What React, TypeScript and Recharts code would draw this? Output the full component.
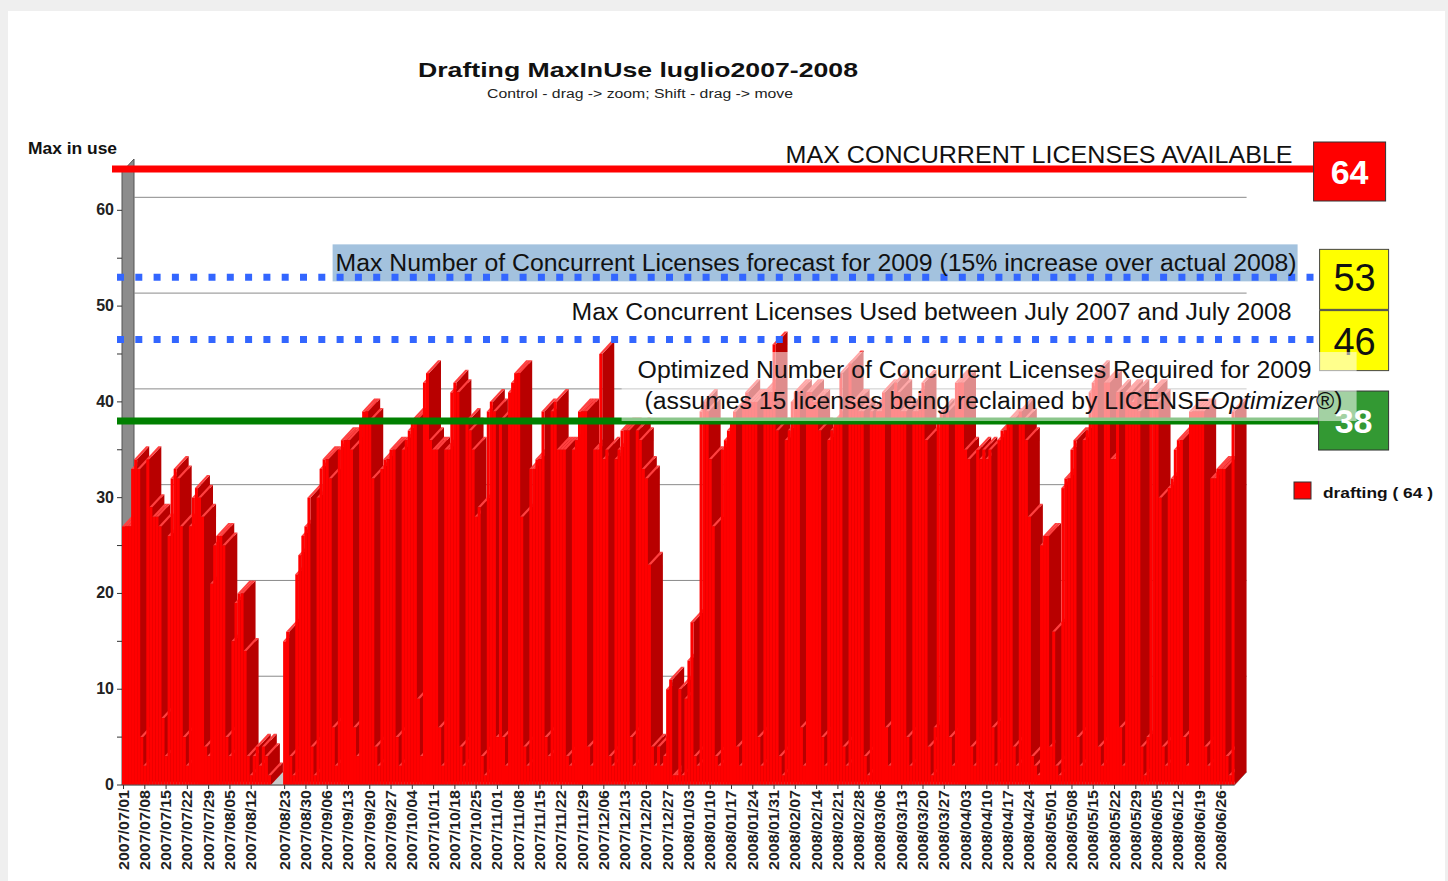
import React from 'react'
import { BarChart, Bar, XAxis, YAxis, ReferenceLine, ReferenceArea, Legend } from 'recharts'

// daily "max in use" for the drafting licences, one array per month (null = no data)
const jul2007 = [27, 27, 27, 33, 34, 33, 5, 2, 34, 29, 28, 28, 27, 7, 3, 26, 32, 33, 32, 27, 5, 2, 27, 30, 31, 30, 28, 4, 3, 21, 25]
const aug2007 = [26, 26, 25, 5, 3, 15, 19, 20, 20, 14, 3, 1, 3, 4, 2, 4, 3, 1, null, null, null, null, 15, 16, 3, 1, 22, 24, 26, 27, 30]
const sep2007 = [4, 1, 30, 33, 34, 34, 32, 6, 2, 35, 36, 36, 36, 35, 6, 3, 38, 39, 39, 38, 32, 4, 2, 33, 34, 34, 35, 35, 5, 2]
const oct2007 = [35, 36, 37, 38, 38, 9, 3, 42, 43, 36, 35, 35, 6, 2, 35, 35, 41, 42, 41, 4, 2, 38, 37, 35, 28, 29, 3, 1, 39, 40, 39]
const nov2007 = [5, 38, 5, 2, 41, 42, 43, 43, 28, 4, 2, 33, 33, 34, 34, 39, 5, 3, 39, 40, 35, 35, 35, 3, 2, 35, 36, 39, 39, 39]
const dec2007 = [4, 2, 35, 35, 45, 34, 35, 3, 2, 34, 35, 37, 37, 37, 5, 2, 37, 36, 33, 32, 23, 4, 2, 4, 2, 3, 10, 11, 1, 1, 10]
const jan2008 = [1, 9, 13, 17, 3, 2, 39, 40, 39, 34, 27, 3, 2, 35, 36, 37, 38, 39, 4, 2, 40, 41, 40, 40, 40, 5, 2, 41, 41, 41, 46]
const feb2008 = [37, 3, 1, 36, 37, 40, 41, 41, 6, 2, 41, 41, 40, 40, 37, 5, 2, 36, 37, 38, 38, 43, 4, 2, 44, 40, 40, 39, 39]
const mar2008 = [3, 1, 39, 38, 39, 39, 41, 6, 2, 41, 42, 41, 39, 39, 5, 2, 39, 39, 41, 42, 36, 4, 1, 6, 38, 39, 38, 39, 5, 2, 42]
const apr2008 = [42, 42, 35, 34, 4, 2, 35, 34, 35, 34, 35, 6, 2, 36, 37, 37, 38, 38, 4, 2, 39, 38, 36, 28, 3, 2, 1, 25, 26, 26]
const may2008 = [4, 16, 2, 1, 31, 32, 32, 35, 36, 5, 2, 36, 37, 41, 42, 43, 4, 2, 42, 42, 34, 34, 41, 6, 2, 41, 41, 40, 41, 39, 4]
const jun2008 = [1, 5, 41, 41, 40, 30, 4, 2, 31, 32, 35, 36, 36, 5, 2, 39, 39, 39, 39, 39, 4, 2, 32, 32, 33, 33, 33, 3, 1, 39]

const monthKeys = ['2007/07', '2007/08', '2007/09', '2007/10', '2007/11', '2007/12', '2008/01', '2008/02', '2008/03', '2008/04', '2008/05', '2008/06']
const monthValues = [jul2007, aug2007, sep2007, oct2007, nov2007, dec2007, jan2008, feb2008, mar2008, apr2008, may2008, jun2008]

const tickLabels = [
  '2007/07/01', '2007/07/08', '2007/07/15', '2007/07/22', '2007/07/29', '2007/08/05', '2007/08/12', '2007/08/23',
  '2007/08/30', '2007/09/06', '2007/09/13', '2007/09/20', '2007/09/27', '2007/10/04', '2007/10/11', '2007/10/18',
  '2007/10/25', '2007/11/01', '2007/11/08', '2007/11/15', '2007/11/22', '2007/11/29', '2007/12/06', '2007/12/13',
  '2007/12/20', '2007/12/27', '2008/01/03', '2008/01/10', '2008/01/17', '2008/01/24', '2008/01/31', '2008/02/07',
  '2008/02/14', '2008/02/21', '2008/02/28', '2008/03/06', '2008/03/13', '2008/03/20', '2008/03/27', '2008/04/03',
  '2008/04/10', '2008/04/17', '2008/04/24', '2008/05/01', '2008/05/08', '2008/05/15', '2008/05/22', '2008/05/29',
  '2008/06/05', '2008/06/12', '2008/06/19', '2008/06/26',
]
const yTicks = [0, 5, 10, 15, 20, 25, 30, 35, 40, 45, 50, 55, 60]
const gridValues = [10, 20, 30, 40, 50, 60]

// licence levels written in the coloured boxes
const maxAvailable = 64
const forecast2009 = 53
const maxUsed = 46
const maxUsedLevel = 46.5 // the dotted line sits a bit above 46 in the original
const optimized2009 = 38

const data = monthKeys.flatMap((m, i) =>
  monthValues[i].map((v, d) => ({ date: `${m}/${String(d + 1).padStart(2, '0')}`, drafting: v })),
)
const labelSet = new Set(tickLabels)

// 3d depth of bars and walls
const DX = 12
const DY = 13

function Bar3D(props: any) {
  const { x, y, width, height, payload } = props
  if (payload == null || payload.drafting == null || !(height > 0)) return <g />
  const w = width
  const b = y + height
  return (
    <g>
      <polygon points={`${x + w},${y} ${x + w + DX},${y - DY} ${x + w + DX},${b - DY} ${x + w},${b}`} fill="#b80000" />
      <polygon points={`${x},${y} ${x + DX},${y - DY} ${x + w + DX},${y - DY} ${x + w},${y}`} fill="#ff4040" />
      <rect x={x} y={y} width={w} height={height} fill="#ff0000" />
    </g>
  )
}

function WallAndFloor(props: any) {
  const { x, y, width, height } = props
  const b = y + height
  const r = x + width
  return (
    <g>
      <polygon points={`${x},${b} ${r},${b} ${r + DX},${b - DY} ${x + DX},${b - DY}`} fill="#c8c8c8" stroke="#9a9a9a" />
      <polygon points={`${x},${b} ${x},${y} ${x + DX},${y - DY} ${x + DX},${b - DY}`} fill="#8c8c8c" stroke="#555" />
    </g>
  )
}

const gridShape = (p: any) => (
  <line x1={p.x1 + DX} y1={p.y1 - DY} x2={p.x2 + DX} y2={p.y2 - DY} stroke="#8a8a8a" strokeWidth={1} />
)

const dotted = { stroke: '#3366ff', strokeWidth: 7, strokeDasharray: '7 11.3' }

const maxAvailableShape = (p: any) => {
  const y = p.y1
  const r = p.x2
  return (
    <g>
      <line x1={p.x1 - 10} x2={r + 79} y1={y - 3} y2={y - 3} stroke="#ff0000" strokeWidth={7} />
      <text x={r + 58} y={y - 9} textAnchor="end" fontSize={23} fill="#111" textLength={507} lengthAdjust="spacingAndGlyphs">
        MAX CONCURRENT LICENSES AVAILABLE
      </text>
      <rect x={r + 79} y={y - 30} width={72} height={59} fill="#ff0000" stroke="#333" />
      <text x={r + 115} y={y + 12} textAnchor="middle" fontSize={34} fontWeight="bold" fill="#fff">
        {maxAvailable}
      </text>
    </g>
  )
}

const forecastShape = (p: any) => {
  const y = p.y1
  const r = p.x2
  return (
    <g>
      <rect x={r - 902} y={y - 33} width={965} height={37} fill="#a3c2de" />
      <line x1={p.x1 - 5} x2={r + 84} y1={y} y2={y} {...dotted} />
      <text x={r + 62} y={y - 6} textAnchor="end" fontSize={23} fill="#111" textLength={961} lengthAdjust="spacingAndGlyphs">
        Max Number of Concurrent Licenses forecast for 2009 (15% increase over actual 2008)
      </text>
      <rect x={r + 85} y={y - 28} width={69} height={60} fill="#ffff00" stroke="#444" />
      <text x={r + 120} y={y + 14} textAnchor="middle" fontSize={38} fill="#111">
        {forecast2009}
      </text>
    </g>
  )
}

const maxUsedShape = (p: any) => {
  const y = p.y1
  const r = p.x2
  return (
    <g>
      <line x1={p.x1 - 5} x2={r + 84} y1={y} y2={y} {...dotted} />
      <text x={r + 57} y={y - 20} textAnchor="end" fontSize={23} fill="#111" textLength={720} lengthAdjust="spacingAndGlyphs">
        Max Concurrent Licenses Used between July 2007 and July 2008
      </text>
      <rect x={r + 85} y={y - 29} width={69} height={60} fill="#ffff00" stroke="#444" />
      <text x={r + 120} y={y + 15} textAnchor="middle" fontSize={38} fill="#111">
        {maxUsed}
      </text>
    </g>
  )
}

const optimizedShape = (p: any) => {
  const y = p.y1
  const r = p.x2
  return (
    <g>
      <line x1={p.x1 - 5} x2={r + 84} y1={y} y2={y} stroke="#008000" strokeWidth={7} />
      <rect x={r + 84} y={y - 30} width={70} height={59} fill="#339933" stroke="#333" />
      <text x={r + 119} y={y + 12} textAnchor="middle" fontSize={34} fontWeight="bold" fill="#fff">
        {optimized2009}
      </text>
      <rect x={r - 613} y={y - 69} width={735} height={69} fill="#ffffff" fillOpacity={0.55} />
      <text x={r - 597} y={y - 43} fontSize={23} fill="#111" textLength={674} lengthAdjust="spacingAndGlyphs">
        Optimized Number of Concurrent Licenses Required for 2009
      </text>
      <text x={r - 590} y={y - 12} fontSize={23} fill="#111" textLength={698} lengthAdjust="spacingAndGlyphs">
        (assumes 15 licenses being reclaimed by LICENSE<tspan fontStyle="italic">Optimizer</tspan>®)
      </text>
    </g>
  )
}

function XTick(props: any) {
  const { x, y, payload } = props
  if (!labelSet.has(payload.value)) return <g />
  return (
    <g>
      <line x1={x} x2={x} y1={y - 5} y2={y - 1} stroke="#333" />
      <text
        x={x}
        y={y}
        dy={5}
        transform={`rotate(-90 ${x} ${y})`}
        textAnchor="end"
        fontSize={14.5}
        fontWeight="bold"
        fill="#222"
        textLength={80}
        lengthAdjust="spacingAndGlyphs"
      >
        {payload.value}
      </text>
    </g>
  )
}

function YTick(props: any) {
  const { x, y, payload } = props
  const v = payload.value
  return (
    <g>
      <line x1={x + 3} x2={x + 8} y1={y} y2={y} stroke="#333" />
      {v % 10 === 0 && (
        <text x={x} y={y} dy={5} textAnchor="end" fontSize={16} fontWeight="bold" fill="#222">
          {v}
        </text>
      )}
    </g>
  )
}

const renderYTitle = (props: any) => {
  const vb = props.viewBox
  return (
    <text x={vb.x + vb.width - 5} y={vb.y - 18} textAnchor="end" fontSize={16} fontWeight="bold" fill="#111" textLength={89} lengthAdjust="spacingAndGlyphs">
      Max in use
    </text>
  )
}

const renderLegend = (props: any) => {
  const items = props.payload || []
  return (
    <svg width={150} height={26}>
      {items.map((e: any) => (
        <g key={e.value}>
          <rect x={2} y={3} width={17} height={17} fill={e.color} stroke="#333" />
          <text x={31} y={19} fontSize={15} fontWeight="bold" fill="#111" textLength={110} lengthAdjust="spacingAndGlyphs">
            {e.value}
          </text>
        </g>
      ))}
    </svg>
  )
}

export default function App() {
  return (
    <div
      style={{
        position: 'fixed',
        left: 0,
        top: 0,
        width: 1448,
        height: 881,
        background: '#efefef',
        overflow: 'hidden',
        fontFamily: "'Liberation Sans', Arial, sans-serif",
      }}
    >
      <div style={{ position: 'absolute', left: 8, top: 11, width: 1437, height: 870, background: '#fff' }} />
      <svg width={1448} height={110} style={{ position: 'absolute', left: 0, top: 0 }}>
        <text x={638} y={77} textAnchor="middle" fontSize={21} fontWeight="bold" fill="#111" textLength={440} lengthAdjust="spacingAndGlyphs">
          Drafting MaxInUse luglio2007-2008
        </text>
        <text x={640} y={98} textAnchor="middle" fontSize={12.5} fill="#222" textLength={306} lengthAdjust="spacingAndGlyphs">
          Control - drag -&gt; zoom; Shift - drag -&gt; move
        </text>
      </svg>
      <div style={{ position: 'absolute', left: 0, top: 0 }}>
        <BarChart
          width={1448}
          height={881}
          data={data}
          margin={{ top: 172, right: 213.4, bottom: 6, left: 62 }}
          barCategoryGap={0}
          barGap={0}
        >
          <ReferenceArea y1={0} y2={maxAvailable} ifOverflow="visible" shape={WallAndFloor} zIndex={-200} />
          {gridValues.map((v) => (
            <ReferenceLine key={v} y={v} ifOverflow="visible" shape={gridShape} zIndex={-150} />
          ))}
          <XAxis
            dataKey="date"
            interval={0}
            height={90}
            tickSize={4}
            tickMargin={1}
            tickLine={false}
            axisLine={{ stroke: '#555' }}
            tick={XTick}
          />
          <YAxis
            domain={[0, maxAvailable]}
            ticks={yTicks}
            width={60}
            tickSize={5}
            tickMargin={3}
            tickLine={false}
            axisLine={false}
            tick={YTick}
            label={{ value: 'Max in use', content: renderYTitle }}
          />
          <Legend
            layout="vertical"
            align="center"
            verticalAlign="middle"
            content={renderLegend}
            wrapperStyle={{ left: 1292, top: 479, width: 150, height: 26 }}
          />
          <Bar dataKey="drafting" name="drafting ( 64 )" fill="#ff0000" shape={Bar3D} isAnimationActive={false} />
          <ReferenceLine y={maxAvailable} ifOverflow="visible" shape={maxAvailableShape} zIndex={1500} />
          <ReferenceLine y={forecast2009} ifOverflow="visible" shape={forecastShape} zIndex={1500} />
          <ReferenceLine y={maxUsedLevel} ifOverflow="visible" shape={maxUsedShape} zIndex={1500} />
          <ReferenceLine y={optimized2009} ifOverflow="visible" shape={optimizedShape} zIndex={1500} />
        </BarChart>
      </div>
    </div>
  )
}
